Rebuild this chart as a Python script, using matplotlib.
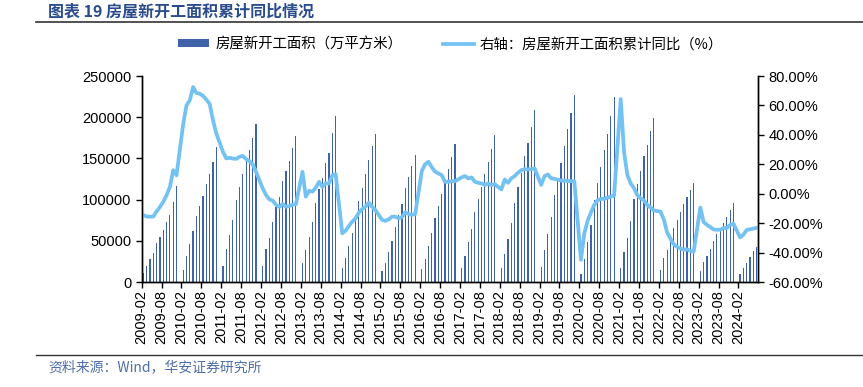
import numpy as np
import matplotlib
matplotlib.use("Agg")
import matplotlib.pyplot as plt
from matplotlib.lines import Line2D
from matplotlib.patches import Patch

plt.rcParams['font.family'] = ['Liberation Sans', 'Noto Sans CJK SC', 'DejaVu Sans']

# 房屋新开工面积 累计值 (万平方米), Feb..Dec of each year
area_2009 = [10500, 19800, 27800, 35500, 47600, 54800, 62900, 73000, 81400, 97200, 116400]
area_2010 = [14500, 31900, 45600, 61300, 80200, 92300, 104400, 118900, 131400, 145200, 163600]
area_2011 = [19000, 39900, 56900, 75800, 99200, 114900, 131400, 148800, 160100, 174600, 191200]
area_2012 = [19800, 39900, 54000, 72600, 91500, 103600, 123000, 134700, 146800, 162100, 177300]
area_2013 = [23400, 38700, 55200, 73000, 95600, 112500, 126600, 144700, 156400, 181000, 201200]
area_2014 = [17000, 29000, 43100, 59700, 79800, 98000, 114500, 131000, 147600, 164500, 179600]
area_2015 = [13700, 23400, 35900, 50000, 67300, 81400, 94800, 114500, 127800, 140700, 154500]
area_2016 = [15700, 28200, 43100, 59300, 77400, 92700, 106800, 119700, 137500, 151200, 166900]
area_2017 = [17000, 31000, 48000, 64900, 85500, 100400, 114900, 131000, 145200, 161300, 178700]
area_2018 = [17300, 34300, 51600, 71400, 95600, 114900, 132200, 152400, 168500, 188700, 209300]
area_2019 = [18500, 38700, 58500, 79400, 105200, 123000, 144700, 164900, 185500, 204800, 227200]
area_2020 = [10100, 27800, 48000, 69400, 99600, 119700, 139100, 160100, 180200, 201200, 224400]
area_2021 = [17300, 35900, 53200, 74200, 101200, 118900, 135100, 152400, 166500, 182700, 198900]
area_2022 = [14500, 29400, 39100, 49200, 66100, 75800, 85100, 94800, 103600, 111700, 120600]
area_2023 = [13700, 24200, 31000, 39500, 50000, 57700, 64100, 71400, 79000, 87500, 95400]
area_2024 = [9400, 17300, 23500, 30100, 38000, 42300]

# 累计同比 (%), Feb..Dec of each year
yoy_2009 = [-14.5, -15.5, -15.6, -15.5, -12.0, -9.0, -5.5, -1.0, 4.5, 16.0, 12.5]
yoy_2010 = [47.0, 60.0, 63.4, 72.5, 68.4, 68.0, 66.5, 64.0, 61.0, 50.0, 41.0]
yoy_2011 = [28.5, 24.0, 24.4, 23.9, 23.7, 25.1, 25.7, 23.5, 22.1, 19.9, 14.9]
yoy_2012 = [3.6, -0.9, -3.8, -4.7, -7.5, -9.0, -7.0, -8.8, -8.4, -7.5, -7.2]
yoy_2013 = [14.9, -2.0, 2.0, 1.4, 4.1, 8.1, 4.7, 7.0, 7.0, 12.6, 13.3]
yoy_2014 = [-26.9, -25.1, -21.9, -19.0, -16.7, -12.9, -10.4, -8.8, -6.1, -8.8, -11.1]
yoy_2015 = [-17.8, -18.5, -17.4, -15.6, -15.6, -16.7, -16.0, -12.6, -13.8, -14.4, -13.8]
yoy_2016 = [15.5, 20.0, 21.7, 18.0, 15.0, 13.8, 12.6, 8.1, 8.1, 8.5, 8.5]
yoy_2017 = [11.1, 12.0, 10.4, 11.1, 8.1, 7.4, 7.0, 5.9, 7.0, 5.9, 6.5]
yoy_2018 = [2.9, 9.7, 7.4, 10.4, 12.0, 14.2, 16.0, 16.7, 16.5, 16.7, 17.2]
yoy_2019 = [6.0, 11.9, 13.1, 10.5, 10.1, 9.5, 9.0, 8.9, 8.6, 8.6, 8.5]
yoy_2020 = [-44.9, -27.2, -18.4, -12.8, -7.6, -4.5, -3.6, -3.4, -2.7, -2.0, -1.2]
yoy_2021 = [64.3, 28.2, 12.8, 6.9, 3.8, -0.9, -3.2, -4.5, -7.7, -9.4, -11.4]
yoy_2022 = [-12.2, -17.5, -26.3, -30.6, -34.4, -36.1, -37.2, -38.0, -37.8, -38.9, -39.4]
yoy_2023 = [-9.4, -19.2, -21.2, -22.6, -24.3, -24.5, -24.4, -23.4, -23.2, -21.2, -20.4]
yoy_2024 = [-29.7, -27.8, -24.6, -24.2, -23.7, -23.2]

years = list(range(2009, 2025))
area_years = [area_2009, area_2010, area_2011, area_2012, area_2013, area_2014, area_2015, area_2016,
              area_2017, area_2018, area_2019, area_2020, area_2021, area_2022, area_2023, area_2024]
yoy_years = [yoy_2009, yoy_2010, yoy_2011, yoy_2012, yoy_2013, yoy_2014, yoy_2015, yoy_2016,
             yoy_2017, yoy_2018, yoy_2019, yoy_2020, yoy_2021, yoy_2022, yoy_2023, yoy_2024]

# monthly category axis: January present as empty slot
labels, area, yoy = [], [], []
for k, y in enumerate(years):
    if y > 2009:
        labels.append(f"{y}-01")
        area.append(np.nan)
        yoy.append(np.nan)
    for m, (a, r) in enumerate(zip(area_years[k], yoy_years[k])):
        labels.append(f"{y}-{m+2:02d}")
        area.append(a)
        yoy.append(r)
area = np.array(area, dtype=float)
yoy = np.array(yoy, dtype=float)
x = np.arange(len(labels))
ok = ~np.isnan(yoy)

fig = plt.figure(figsize=(8.63, 3.87), dpi=100)
ax = fig.add_axes([0.1642, 0.2713, 0.7145, 0.5323])
ax2 = ax.twinx()

ax.bar(x, area, width=0.36, color='#3F63A8', linewidth=0)
ax2.plot(x[ok], yoy[ok], color='#73C2F2', linewidth=2.7, solid_joinstyle='round')

ax.set_xlim(-0.5, len(labels) - 0.5)
ax.set_ylim(0, 250000)
ax.set_yticks(np.arange(0, 250001, 50000))
ax2.set_ylim(-60, 80)
ax2.set_yticks(np.arange(-60, 81, 20))
ax2.set_yticklabels([f"{v:.2f}%" for v in np.arange(-60, 81, 20)])

tick_pos = np.arange(0, len(labels), 6) - 0.5
ax.set_xticks(tick_pos)
ax.set_xticklabels(labels[::6], rotation=90, fontsize=10.5)
ax.tick_params(axis='y', labelsize=10.5, direction='out', length=4, width=1)
ax.tick_params(axis='x', direction='out', length=4, width=1, pad=2)
ax2.tick_params(axis='y', labelsize=10.5, direction='out', length=4, width=1)

for a in (ax, ax2):
    a.spines['top'].set_visible(False)
    for s in ('left', 'right', 'bottom'):
        a.spines[s].set_color('black')
        a.spines[s].set_linewidth(1)

cjk = ['Noto Sans CJK SC', 'DejaVu Sans']
handles = [Patch(facecolor='#3F63A8', edgecolor='none'),
           Line2D([0], [0], color='#73C2F2', linewidth=2.7)]
leg = fig.legend(handles, ['房屋新开工面积（万平方米）', '右轴：房屋新开工面积累计同比（%）'],
                 loc='center', bbox_to_anchor=(0.522, 0.886), ncol=2, frameon=False,
                 handlelength=2.2, handleheight=0.45, handletextpad=0.4, columnspacing=2.8,
                 prop={'family': cjk, 'size': 10.4})

fig.text(48 / 863, 1 - 12 / 387, '图表 19 房屋新开工面积累计同比情况', family=cjk,
         fontsize=11.5, fontweight='bold', color='#2B4C8C', va='center', ha='left')
fig.add_artist(Line2D([36 / 863, 1], [1 - 22 / 387] * 2, color='#333333', linewidth=1.2))
fig.add_artist(Line2D([36 / 863, 1], [1 - 355 / 387] * 2, color='#333333', linewidth=1.0))
fig.text(48 / 863, 1 - 367 / 387, '资料来源：Wind，华安证券研究所', family=cjk,
         fontsize=10, color='#4F6FA8', va='center', ha='left')

fig.savefig('out.png', dpi=100)
